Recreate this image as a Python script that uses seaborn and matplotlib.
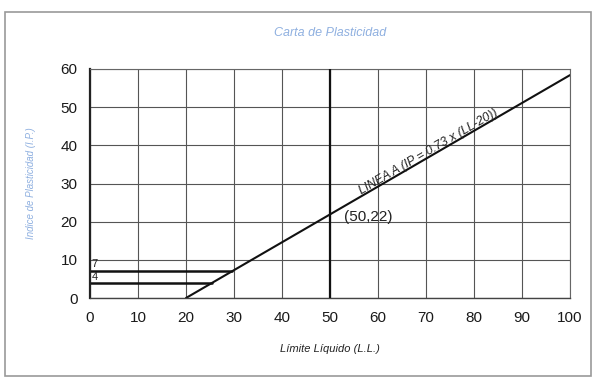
import matplotlib
matplotlib.use('Agg')
import numpy as np
import pandas as pd
import matplotlib.pyplot as plt
import seaborn as sns
from matplotlib.patches import Rectangle

# A-line: IP = 0.73 x (LL - 20)
a_line_ll = [20, 100]
a_line_ip = [0, 58.4]

# CL-ML band limits (from LL = 0 to where they meet the A-line)
band_ip = [7, 4]
band_ll_end = [29.6, 25.5]

# vertical line LL = 50
ll_50 = 50

x_ticks = list(range(0, 101, 10))
y_ticks = list(range(0, 61, 10))

sns.set_style("white")
plt.rcParams['font.family'] = ['Liberation Sans', 'DejaVu Sans']

fig = plt.figure(figsize=(5.93, 3.83), dpi=100)
ax = fig.add_axes([90 / 593, 1 - 298 / 383, 480 / 593, 229 / 383])

# outer frame of the chart
fig.patches.append(Rectangle((5 / 593, 7 / 383), 586 / 593, 364 / 383,
                             transform=fig.transFigure, fill=False,
                             edgecolor='#9a9a9a', linewidth=1.2))

df_a = pd.DataFrame({'LL': a_line_ll, 'IP': a_line_ip})
sns.lineplot(data=df_a, x='LL', y='IP', color='#111111', linewidth=1.5, ax=ax)

for ip, ll_end in zip(band_ip, band_ll_end):
    df_b = pd.DataFrame({'LL': [0, ll_end], 'IP': [ip, ip]})
    sns.lineplot(data=df_b, x='LL', y='IP', color='#111111', linewidth=1.8, ax=ax)

ax.axvline(ll_50, color='#111111', linewidth=1.6, zorder=3)

ax.set_xlim(0, 100)
ax.set_ylim(0, 60)
ax.set_xticks(x_ticks)
ax.set_yticks(y_ticks)
ax.grid(True, color='#555555', linewidth=0.8)
ax.set_axisbelow(True)

for side in ['top', 'right']:
    ax.spines[side].set_color('#666666')
    ax.spines[side].set_linewidth(0.8)
ax.spines['left'].set_color('#222222')
ax.spines['left'].set_linewidth(1.6)
ax.spines['bottom'].set_color('#444444')
ax.spines['bottom'].set_linewidth(1.0)

ax.tick_params(axis='both', direction='out', length=5, width=1,
               color='#333333', labelsize=11, labelcolor='#1a1a1a', pad=4)

ax.set_xlabel('Límite Líquido (L.L.)', fontsize=8, style='italic', color='#222222', labelpad=14)
ax.set_ylabel('Indice de Plasticidad (I.P.)', fontsize=7, style='italic', color='#8fb0e0', labelpad=18)
ax.set_title('Carta de Plasticidad', fontsize=9, style='italic', color='#8fb0e0', pad=24)

ax.text(70.5, 38.2, 'LINEA A (IP = 0.73 x (LL-20))', fontsize=8.8, style='italic',
        color='#222222', rotation=30.2, ha='center', va='center',
        rotation_mode='anchor')
ax.text(53, 21.3, '(50,22)', fontsize=11, color='#222222', ha='left', va='center')
ax.text(0.3, 8.8, '7', fontsize=8, color='#222222', ha='left', va='center')
ax.text(0.3, 5.4, '4', fontsize=8, color='#222222', ha='left', va='center')

fig.savefig('out.png', dpi=100)
